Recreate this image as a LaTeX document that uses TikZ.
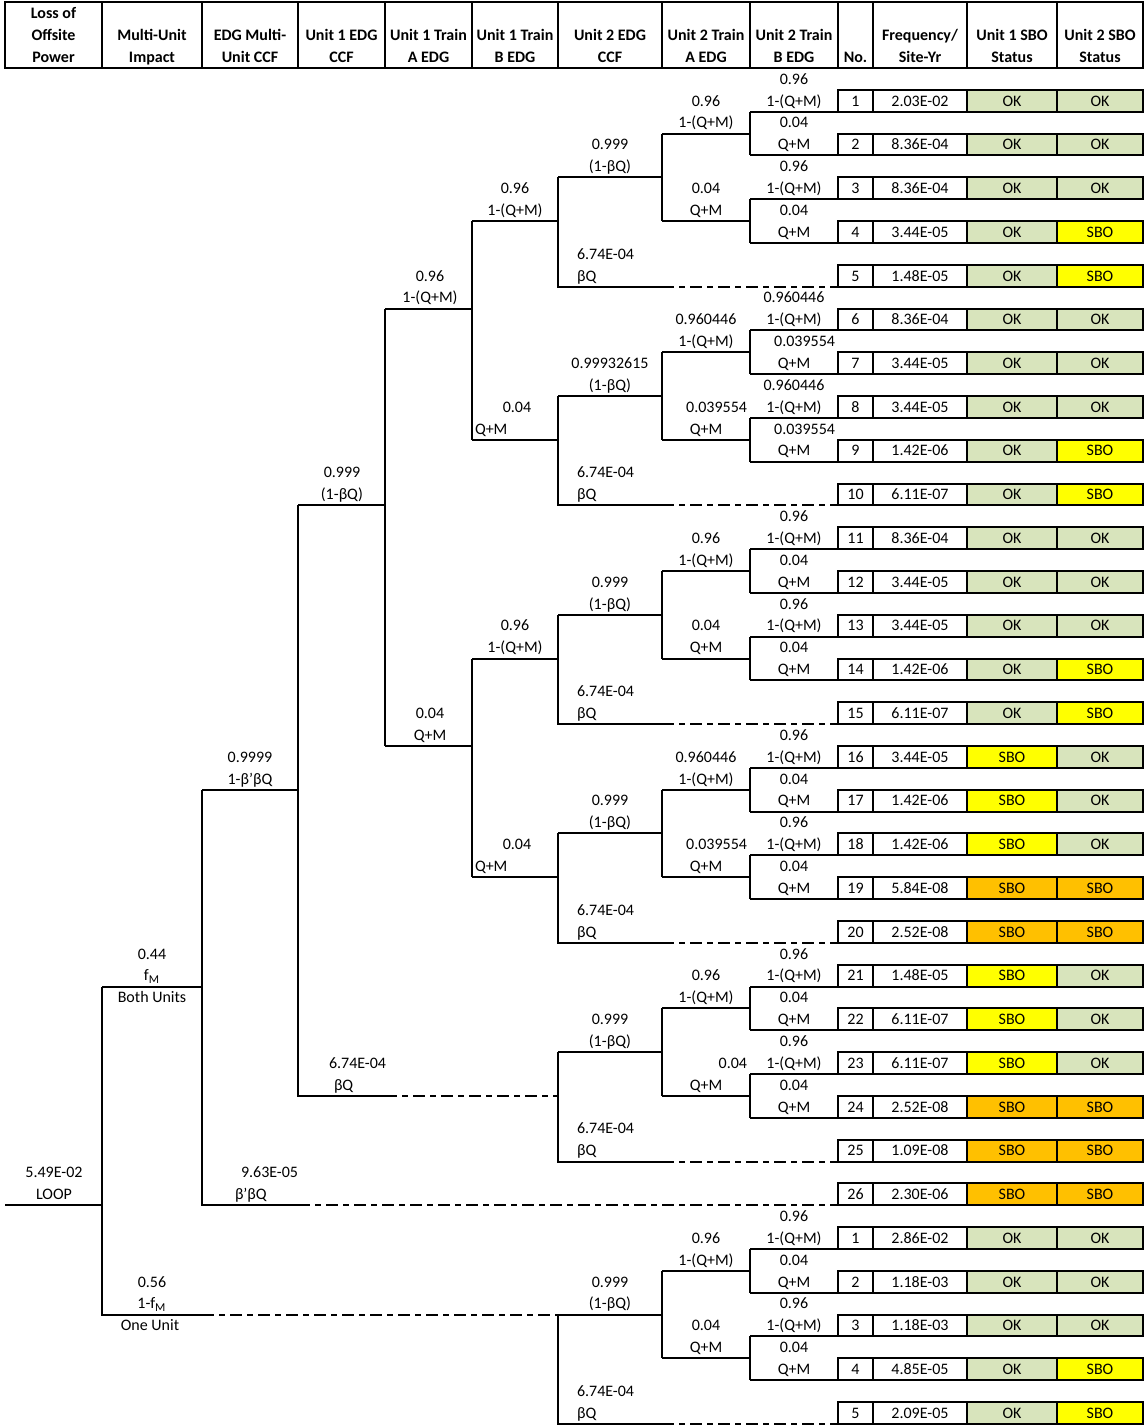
\documentclass[tikz,border=0pt]{standalone}
\usepackage{fontspec}
\setmainfont{Carlito}
\definecolor{okg}{HTML}{D8E4BC}
\definecolor{sboy}{HTML}{FFFF00}
\definecolor{sboo}{HTML}{FFC000}
\newcommand\fs{\fontsize{8}{10.935}\selectfont}
% Unit 2 sub-tree: #1 prefix, #2 first line row, #3 A succ prob, #4 A fail prob,
% #5 B succ prob, #6 B fail prob, #7 CCF prob, #8 A-fail label opts, #9 B-fail label opts
\newcommand\Utwo[9]{%
\begin{scope}[shift={(0,#2)}]
\draw (750,0) -- (838,0) (750,2) -- (838,2) (750,4) -- (838,4) (750,6) -- (838,6);
\draw (750,0) -- (750,2) (750,4) -- (750,6);
\draw (662,1) -- (750,1) (662,5) -- (750,5) (662,1) -- (662,5);
\draw (558,3) -- (662,3) (558,3) -- (558,8) -- (662,8);
\draw[dsh] (662,8) -- (838,8);
\node[txt] (#1b1p) at (794,-1.26) {#5};
\node[txt] (#1b1f) at (794,-0.26) {1-(Q+M)};
\node[txt,#9] (#1b2p) at (794,0.74) {#6};
\node[txt] (#1b2f) at (794,1.74) {Q+M};
\node[txt] (#1b3p) at (794,2.74) {#5};
\node[txt] (#1b3f) at (794,3.74) {1-(Q+M)};
\node[txt,#9] (#1b4p) at (794,4.74) {#6};
\node[txt] (#1b4f) at (794,5.74) {Q+M};
\node[txt] (#1a1p) at (706,-0.26) {#3};
\node[txt] (#1a1f) at (706,0.74) {1-(Q+M)};
\node[txt,#8] (#1a2p) at (706,3.74) {#4};
\node[txt] (#1a2f) at (706,4.74) {Q+M};
\node[txt] (#1cp) at (610,1.74) {#7};
\node[txt] (#1cf) at (610,2.74) {(1-βQ)};
\node[txt,anchor=base west] (#1bp) at (576,6.74) {6.74E-04};
\node[txt,anchor=base west] (#1bf) at (576,7.74) {βQ};
\end{scope}}
\begin{document}
\begin{tikzpicture}[x=0.5pt,y=-10.935pt,line width=1pt,
  txt/.style={inner sep=0pt,font=\fs,anchor=base},
  hd/.style={inner sep=0pt,font=\fs\bfseries,anchor=base},
  dsh/.style={dash pattern=on 6pt off 2.5pt on 3pt off 2.5pt},
  rgt/.style={anchor=base east,xshift=21pt}]
\useasboundingbox (0,-0.1097) rectangle (1144,65.048);
\fill[white] (0,-0.1097) rectangle (1144,65.048);
% header
\draw (5,0) rectangle (1143,3);
\foreach \x in {102,202,298,385,472,558,662,750,838,873,967,1057} \draw (\x,0) -- (\x,3);
\node[hd] (h1a) at (53.5,0.74) {Loss of};
\node[hd] (h1b) at (53.5,1.74) {Offsite};
\node[hd] (h1c) at (53.5,2.74) {Power};
\node[hd] (h2a) at (152,1.74) {Multi-Unit};
\node[hd] (h2b) at (152,2.74) {Impact};
\node[hd] (h3a) at (250,1.74) {EDG Multi-};
\node[hd] (h3b) at (250,2.74) {Unit CCF};
\node[hd] (h4a) at (341.5,1.74) {Unit 1 EDG};
\node[hd] (h4b) at (341.5,2.74) {CCF};
\node[hd] (h5a) at (428.5,1.74) {Unit 1 Train};
\node[hd] (h5b) at (428.5,2.74) {A EDG};
\node[hd] (h6a) at (515,1.74) {Unit 1 Train};
\node[hd] (h6b) at (515,2.74) {B EDG};
\node[hd] (h7a) at (610,1.74) {Unit 2 EDG};
\node[hd] (h7b) at (610,2.74) {CCF};
\node[hd] (h8a) at (706,1.74) {Unit 2 Train};
\node[hd] (h8b) at (706,2.74) {A EDG};
\node[hd] (h9a) at (794,1.74) {Unit 2 Train};
\node[hd] (h9b) at (794,2.74) {B EDG};
\node[hd] (h10) at (855.5,2.74) {No.};
\node[hd] (h11a) at (920,1.74) {Frequency/};
\node[hd] (h11b) at (920,2.74) {Site-Yr};
\node[hd] (h12a) at (1012,1.74) {Unit 1 SBO};
\node[hd] (h12b) at (1012,2.74) {Status};
\node[hd] (h13a) at (1100,1.74) {Unit 2 SBO};
\node[hd] (h13b) at (1100,2.74) {Status};
% outcome table
\foreach \i/\n/\fr/\ca/\ta/\cb/\tb in {
 1/1/2.03E-02/okg/OK/okg/OK, 2/2/8.36E-04/okg/OK/okg/OK, 3/3/8.36E-04/okg/OK/okg/OK,
 4/4/3.44E-05/okg/OK/sboy/SBO, 5/5/1.48E-05/okg/OK/sboy/SBO,
 6/6/8.36E-04/okg/OK/okg/OK, 7/7/3.44E-05/okg/OK/okg/OK, 8/8/3.44E-05/okg/OK/okg/OK,
 9/9/1.42E-06/okg/OK/sboy/SBO, 10/10/6.11E-07/okg/OK/sboy/SBO,
 11/11/8.36E-04/okg/OK/okg/OK, 12/12/3.44E-05/okg/OK/okg/OK, 13/13/3.44E-05/okg/OK/okg/OK,
 14/14/1.42E-06/okg/OK/sboy/SBO, 15/15/6.11E-07/okg/OK/sboy/SBO,
 16/16/3.44E-05/sboy/SBO/okg/OK, 17/17/1.42E-06/sboy/SBO/okg/OK, 18/18/1.42E-06/sboy/SBO/okg/OK,
 19/19/5.84E-08/sboo/SBO/sboo/SBO, 20/20/2.52E-08/sboo/SBO/sboo/SBO,
 21/21/1.48E-05/sboy/SBO/okg/OK, 22/22/6.11E-07/sboy/SBO/okg/OK, 23/23/6.11E-07/sboy/SBO/okg/OK,
 24/24/2.52E-08/sboo/SBO/sboo/SBO, 25/25/1.09E-08/sboo/SBO/sboo/SBO, 26/26/2.30E-06/sboo/SBO/sboo/SBO,
 27/1/2.86E-02/okg/OK/okg/OK, 28/2/1.18E-03/okg/OK/okg/OK, 29/3/1.18E-03/okg/OK/okg/OK,
 30/4/4.85E-05/okg/OK/sboy/SBO, 31/5/2.09E-05/okg/OK/sboy/SBO}{
 \pgfmathtruncatemacro\r{2*\i+2}
 \draw (838,\r) rectangle (873,\r+1);
 \draw (873,\r) rectangle (967,\r+1);
 \draw[fill=\ca] (967,\r) rectangle (1057,\r+1);
 \draw[fill=\cb] (1057,\r) rectangle (1143,\r+1);
 \node[txt] (no\i) at (855.5,\r+0.74) {\n};
 \node[txt] (fr\i) at (920,\r+0.74) {\fr};
 \node[txt] (ua\i) at (1012,\r+0.74) {\ta};
 \node[txt] (ub\i) at (1100,\r+0.74) {\tb};
}
% Unit 2 sub-trees
\Utwo{sA}{5}{0.96}{0.04}{0.96}{0.04}{0.999}{}{}
\Utwo{sB}{15}{0.960446}{0.039554}{0.960446}{0.039554}{0.99932615}{rgt}{rgt}
\Utwo{sC}{25}{0.96}{0.04}{0.96}{0.04}{0.999}{}{}
\Utwo{sD}{35}{0.960446}{0.039554}{0.96}{0.04}{0.999}{rgt}{}
\Utwo{sE}{45}{0.96}{0.04}{0.96}{0.04}{0.999}{rgt}{}
\Utwo{sF}{57}{0.96}{0.04}{0.96}{0.04}{0.999}{}{}
% Unit 1 Train B
\draw (472,10) -- (558,10) (472,20) -- (558,20) (472,10) -- (472,20);
\draw (472,30) -- (558,30) (472,40) -- (558,40) (472,30) -- (472,40);
\node[txt] (ub1p) at (515,8.74) {0.96};
\node[txt] (ub1f) at (515,9.74) {1-(Q+M)};
\node[txt] (ub2p) at (517,18.74) {0.04};
\node[txt,anchor=base west] (ub2f) at (474,19.74) {Q+M};
\node[txt] (ub3p) at (515,28.74) {0.96};
\node[txt] (ub3f) at (515,29.74) {1-(Q+M)};
\node[txt] (ub4p) at (517,38.74) {0.04};
\node[txt,anchor=base west] (ub4f) at (474,39.74) {Q+M};
% Unit 1 Train A
\draw (385,14) -- (472,14) (385,34) -- (472,34) (385,14) -- (385,34);
\node[txt] (ua1p) at (430,12.74) {0.96};
\node[txt] (ua1f) at (430,13.74) {1-(Q+M)};
\node[txt] (ua2p) at (430,32.74) {0.04};
\node[txt] (ua2f) at (430,33.74) {Q+M};
% Unit 1 EDG CCF
\draw (298,23) -- (385,23) (298,23) -- (298,50) -- (385,50);
\draw[dsh] (385,50) -- (558,50);
\node[txt] (uc1p) at (342,21.74) {0.999};
\node[txt] (uc1f) at (342,22.74) {(1-βQ)};
\node[txt,anchor=base west] (uc2p) at (328,48.74) {6.74E-04};
\node[txt,anchor=base west] (uc2f) at (333,49.74) {βQ};
% EDG multi-unit CCF
\draw (202,36) -- (298,36) (202,36) -- (202,55) -- (298,55);
\draw[dsh] (298,55) -- (838,55);
\node[txt] (mc1p) at (250,34.74) {0.9999};
\node[txt] (mc1f) at (250,35.74) {1-β'βQ};
\node[txt,anchor=base west] (mc2p) at (240,53.74) {9.63E-05};
\node[txt,anchor=base west] (mc2f) at (234,54.74) {β'βQ};
% Multi-unit impact
\draw (102,45) -- (202,45) (102,45) -- (102,60) -- (202,60);
\draw[dsh] (202,60) -- (558,60);
\node[txt] (mu1p) at (152,43.74) {0.44};
\node[txt] (mu1f) at (152,44.74) {f\textsubscript{M}};
\node[txt] (mu1n) at (152,45.74) {Both Units};
\node[txt] (mu2p) at (152,58.74) {0.56};
\node[txt] (mu2f) at (152,59.74) {1-f\textsubscript{M}};
\node[txt] (mu2n) at (150,60.74) {One Unit};
% LOOP
\draw (5,55) -- (102,55);
\node[txt] (lp) at (54,53.74) {5.49E-02};
\node[txt] (lf) at (54,54.74) {LOOP};
\end{tikzpicture}
\end{document}
